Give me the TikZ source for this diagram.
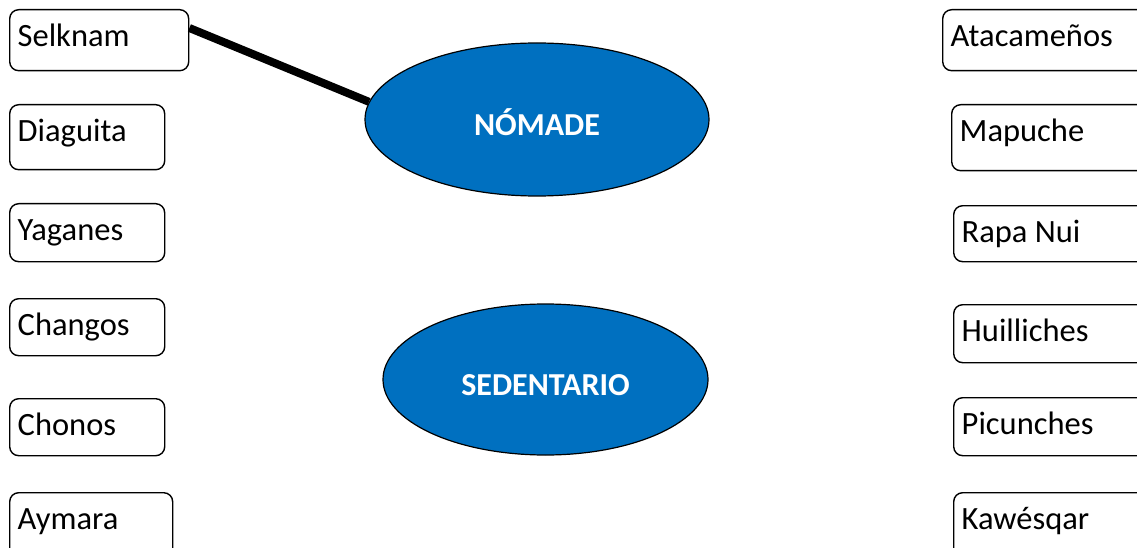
\documentclass[tikz,border=0pt]{standalone}
\usepackage{fontspec}
\setmainfont{Carlito}
\usetikzlibrary{shapes.geometric,calc}
\definecolor{wordblue}{HTML}{0070C0}
\begin{document}
\begin{tikzpicture}[x=1pt,y=-1pt,
  tbox/.style={draw=black, line width=1.4pt, rounded corners=9pt, anchor=north west,
    inner xsep=8pt, inner ysep=0pt, align=flush left, text height=37pt,
    font=\fontsize{32.5}{38}\selectfont},
  oval/.style={ellipse, draw=black, line width=1.2pt, fill=wordblue, inner sep=0pt,
    text=white, text height=32pt, text depth=0pt,
    font=\fontsize{32}{38}\selectfont\bfseries},
  link/.style={line width=8pt, draw=black}]
\useasboundingbox (0,0) rectangle (1137,548);
\clip (0,0) rectangle (1137,548);
% left column
\node[tbox, text width=163pt, text depth=24pt] (sel) at (9,9) {Selknam};
\node[tbox, text width=139pt, text depth=28pt] (dia) at (9,104) {Diaguita};
\node[tbox, text width=139pt, text depth=21pt] (yag) at (9,203) {Yaganes};
\node[tbox, text width=139pt, text depth=20pt] (cha) at (9,298) {Changos};
\node[tbox, text width=139pt, text depth=20pt] (cho) at (9,398) {Chonos};
\node[tbox, text width=147pt, text depth=33pt] (aym) at (9,492) {Aymara};
% right column
\node[tbox, text width=234pt, text depth=24pt] (ata) at (942,9) {Atacameños};
\node[tbox, text width=234pt, text depth=29pt] (map) at (951,104) {Mapuche};
\node[tbox, text width=234pt, text depth=19pt] (rap) at (953,205) {Rapa Nui};
\node[tbox, text width=234pt, text depth=21pt] (hui) at (953,304) {Huilliches};
\node[tbox, text width=234pt, text depth=21pt] (pic) at (953,397) {Picunches};
\node[tbox, text width=234pt, text depth=33pt] (kaw) at (953,492) {Kawésqar};
% ellipses
\node[oval, minimum width=344pt, minimum height=153pt] (nom) at (537,119.5) {NÓMADE};
\node[oval, minimum width=325pt, minimum height=151pt] (sed) at (545.5,379.5) {SEDENTARIO};
% connector
\coordinate (s1) at ([yshift=-19pt]sel.north east);
\draw[link] (s1) -- (nom.174);
\end{tikzpicture}
\end{document}
